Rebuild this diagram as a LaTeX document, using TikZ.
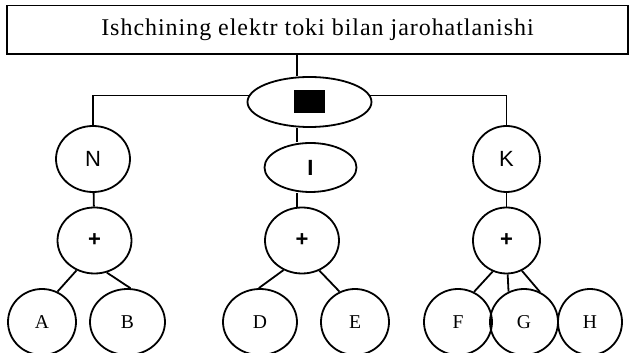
\documentclass[tikz,border=0pt]{standalone}
\usepackage{fontspec}
\setmainfont{Liberation Serif}
\newfontfamily\labelsans{Liberation Sans}
\newfontfamily\titlefont[LetterSpace=4]{Liberation Serif}
\usetikzlibrary{shapes.geometric}

\begin{document}
\begin{tikzpicture}[
  x=0.5pt, y=-0.5pt,
  line width=0.9pt,
  titlebox/.style={draw, minimum width=310.5pt, minimum height=24.25pt, inner sep=0pt,
    font=\titlefont\fontsize{12}{14}\selectfont},
  oval/.style={draw, ellipse, inner sep=0pt},
  letter/.style={oval, minimum width=34pt, minimum height=33pt, font=\fontsize{9.8}{11}\selectfont},
  sans/.style={oval, font=\labelsans\fontsize{11}{13}\selectfont},
  plus/.style={oval, minimum width=37pt, minimum height=33pt,
    font=\labelsans\bfseries\fontsize{11}{13}\selectfont}
]
\useasboundingbox (0,0) rectangle (629,353);

% top of the tree
\node[titlebox] (title) at (317.5,29.75) {Ishchining elektr toki bilan jarohatlanishi};
\node[oval, minimum width=62pt, minimum height=25pt] (root) at (309.5,102) {\rule{15.5pt}{11.5pt}};
\coordinate (stem) at (297,0);

% second row
\node[sans, minimum width=37pt, minimum height=33pt] (N) at (93,159) {N};
\node[sans, minimum width=46pt, minimum height=24.5pt,
  font=\labelsans\bfseries\fontsize{11}{13}\selectfont] (I) at (310.5,167.5) {I};
\node[sans, minimum width=33.5pt, minimum height=33pt] (K) at (506.5,159) {K};

% plus row
\node[plus] (plusN) at (94.5,240.5) {+};
\node[plus] (plusI) at (302,240.5) {+};
\node[plus, minimum width=33.5pt] (plusK) at (506.5,240.5) {+};

% leaves
\node[letter] (A) at (42,322) {A};
\node[letter, minimum width=37.5pt] (B) at (127.5,322) {B};
\node[letter, minimum width=37pt] (D) at (260,322) {D};
\node[letter] (E) at (355,322) {E};
\node[letter] (F) at (458,322) {F};
\node[letter] (G) at (524,322) {G};
\node[letter, minimum width=32pt] (H) at (590,322) {H};
\coordinate (toH) at (540,292);

% links
\draw (title.south -| stem) -- (root.north -| stem);
\draw (root.174) -| (N);
\draw (root.6) -| (K);
\draw (root.south -| stem) -- (I.north -| stem);
\draw (I.south -| stem) -- (plusI.north -| stem);
\draw (N) -- (plusN);
\draw (K) -- (plusK);
\draw (plusN.239) -- (A.63);
\draw (plusN.291) -- (B.85);
\draw (plusI.238) -- (D.92);
\draw (plusI.300) -- (E.117);
\draw (plusK.246) -- (F.62);
\draw (plusK.272) -- (G.117);
\draw (plusK.297) -- (toH);

\end{tikzpicture}
\end{document}
